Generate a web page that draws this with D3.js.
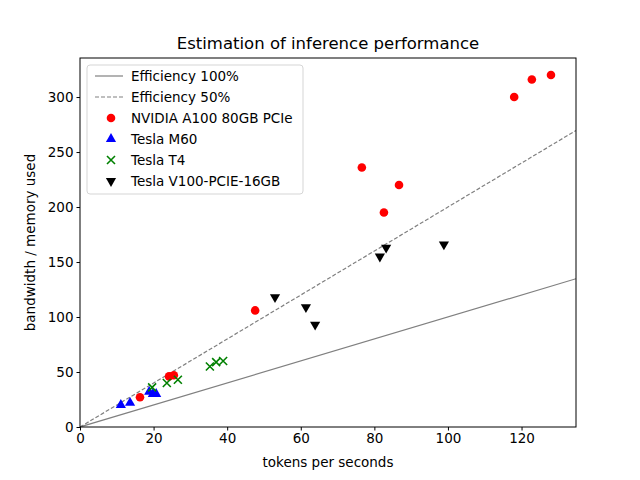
<!DOCTYPE html>
<html><head><meta charset="utf-8">
<script src="https://cdn.jsdelivr.net/npm/d3@7"></script>
<style>body{margin:0;background:#fff}text{font-family:"DejaVu Sans",sans-serif}</style>
</head><body><div id="chart"></div>
<script>
const a100 = [[16.3,27],[24.2,46],[25.5,47],[47.6,106],[76.6,236],[82.6,195],[86.7,220],[118,300],[122.8,316],[128,320]];
const m60 = [[11.1,20],[13.6,22],[18.8,32],[19.8,30],[20.7,30]];
const t4 = [[19.6,36],[23.6,40],[26.6,43],[35.3,55],[37,59],[38.9,60]];
const v100 = [[53,118],[61.4,109],[63.9,93],[81.5,155],[83.2,163],[98.9,166]];
const xTicks = [0,20,40,60,80,100,120];
const yTicks = [0,50,100,150,200,250,300];

const width = 640, height = 480;
const m = {left: 80, top: 58, right: 576, bottom: 427};
const x = d3.scaleLinear().domain([0,134.8]).range([m.left,m.right]);
const y = d3.scaleLinear().domain([0,335.5]).range([m.bottom,m.top]);

const svg = d3.select("#chart").append("svg").attr("width",width).attr("height",height);
const clip = svg.append("clipPath").attr("id","c").append("rect")
  .attr("x",m.left).attr("y",m.top).attr("width",m.right-m.left).attr("height",m.bottom-m.top);
const g = svg.append("g").attr("clip-path","url(#c)");

// efficiency lines
g.append("line").attr("x1",x(0)).attr("y1",y(0)).attr("x2",x(134.8)).attr("y2",y(134.8))
  .attr("stroke","#808080").attr("stroke-width",1.2);
g.append("line").attr("x1",x(0)).attr("y1",y(0)).attr("x2",x(134.8)).attr("y2",y(269.6))
  .attr("stroke","#808080").attr("stroke-width",1.2).attr("stroke-dasharray","4,2");

const tri = d3.symbol().type(d3.symbolTriangle).size(45);
g.selectAll(".a").data(a100).enter().append("circle")
  .attr("cx",d=>x(d[0])).attr("cy",d=>y(d[1])).attr("r",4.3).attr("fill","red");
g.selectAll(".m").data(m60).enter().append("path").attr("d",tri)
  .attr("transform",d=>`translate(${x(d[0])},${y(d[1])})`).attr("fill","blue");
g.selectAll(".t").data(t4).enter().append("path").attr("d","M-4,-4L4,4M-4,4L4,-4")
  .attr("transform",d=>`translate(${x(d[0])},${y(d[1])})`).attr("stroke","green").attr("stroke-width",1.6);
g.selectAll(".v").data(v100).enter().append("path").attr("d",tri)
  .attr("transform",d=>`translate(${x(d[0])},${y(d[1])}) rotate(180)`).attr("fill","black");

const xa = svg.append("g").attr("transform",`translate(0,${m.bottom})`)
  .call(d3.axisBottom(x).tickValues(xTicks).tickSizeOuter(0).tickSize(3.5));
const ya = svg.append("g").attr("transform",`translate(${m.left},0)`)
  .call(d3.axisLeft(y).tickValues(yTicks).tickSizeOuter(0).tickSize(3.5));
[xa,ya].forEach(a=>{a.select(".domain").remove();a.selectAll("text").attr("font-size",13.5).attr("font-family","DejaVu Sans");});
svg.append("rect").attr("x",m.left).attr("y",m.top).attr("width",m.right-m.left).attr("height",m.bottom-m.top)
  .attr("fill","none").attr("stroke","black").attr("stroke-width",1);

svg.append("text").attr("x",(m.left+m.right)/2).attr("y",49).attr("text-anchor","middle").attr("font-size",16.5)
  .text("Estimation of inference performance");
svg.append("text").attr("x",(m.left+m.right)/2).attr("y",467).attr("text-anchor","middle").attr("font-size",13.5)
  .text("tokens per seconds");
svg.append("text").attr("transform",`translate(35,${(m.top+m.bottom)/2}) rotate(-90)`).attr("text-anchor","middle")
  .attr("font-size",13.5).text("bandwidth / memory used");

// legend
const lg = svg.append("g").attr("transform","translate(87,65)");
lg.append("rect").attr("width",216).attr("height",129).attr("rx",3).attr("fill","white")
  .attr("stroke","#ccc").attr("opacity",0.8);
const items = ["Efficiency 100%","Efficiency 50%","NVIDIA A100 80GB PCIe","Tesla M60","Tesla T4","Tesla V100-PCIE-16GB"];
items.forEach((t,i)=>{
  const cy = 11 + i*21;
  const it = lg.append("g").attr("transform",`translate(24,${cy})`);
  if(i<2) it.append("line").attr("x1",-16).attr("x2",12).attr("stroke","#808080").attr("stroke-width",1.2)
    .attr("stroke-dasharray",i==1?"4,2":null);
  if(i==2) it.append("circle").attr("r",4.3).attr("fill","red");
  if(i==3) it.append("path").attr("d",tri).attr("fill","blue");
  if(i==4) it.append("path").attr("d","M-4,-4L4,4M-4,4L4,-4").attr("stroke","green").attr("stroke-width",1.6);
  if(i==5) it.append("path").attr("d",tri).attr("transform","rotate(180)").attr("fill","black");
  lg.append("text").attr("x",44).attr("y",cy+5).attr("font-size",13.5).text(t);
});
</script></body></html>
